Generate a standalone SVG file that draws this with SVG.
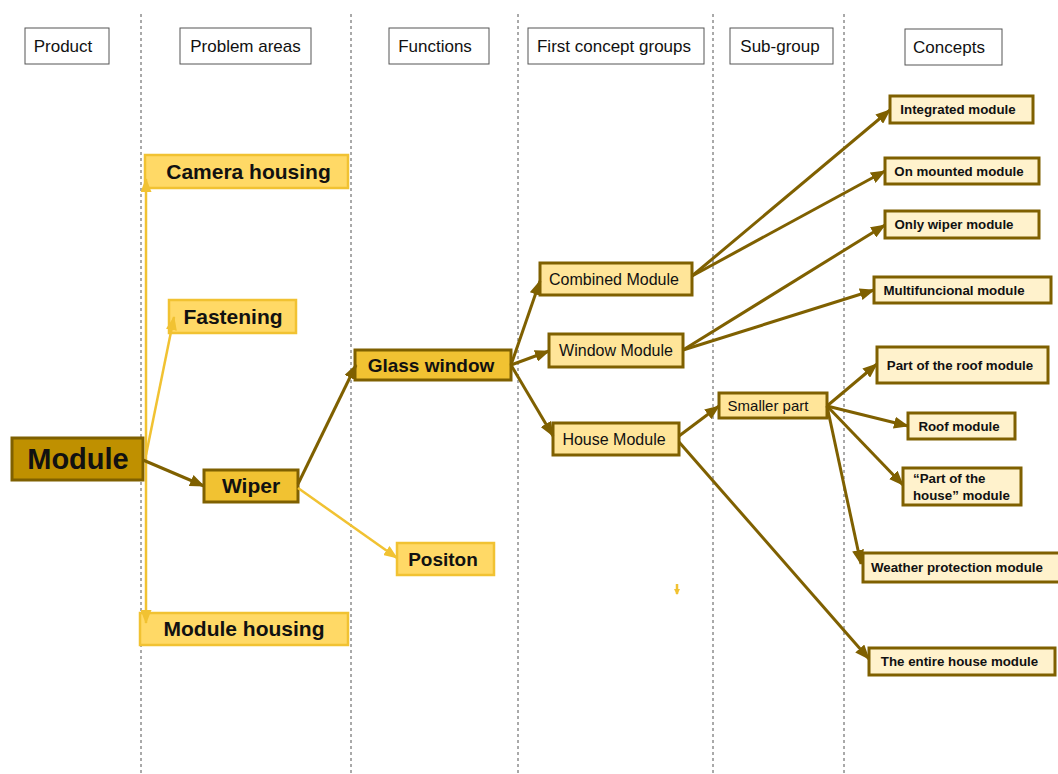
<svg xmlns="http://www.w3.org/2000/svg" width="1058" height="774" viewBox="0 0 1058 774">
<style>
text{font-family:"Liberation Sans",Arial,sans-serif;fill:#111}
.hdr rect{fill:#fff;stroke:#555;stroke-width:1}
.hdr text{font-size:17px;text-anchor:middle}
.sep{stroke:#555;stroke-width:1;stroke-dasharray:3 3}
.dk{stroke:#7f6000;stroke-width:3;fill:none}
.lt{stroke:#f1c232;stroke-width:2.5;fill:none}
.n-root rect{fill:#bf9000;stroke:#7f6000;stroke-width:3}
.n-mid rect{fill:#f1c232;stroke:#7f6000;stroke-width:3}
.n-lt rect{fill:#ffd966;stroke:#f1c232;stroke-width:2.5}
.n-grp rect{fill:#ffe599;stroke:#7f6000;stroke-width:3}
.n-con rect{fill:#fff2cc;stroke:#7f6000;stroke-width:3}
.b21{font-size:21px;font-weight:bold;text-anchor:middle}
.b19{font-size:19px;font-weight:bold;text-anchor:middle}
.r16{font-size:16px;text-anchor:middle}
.b13{font-size:13.3px;font-weight:bold;text-anchor:middle}
</style>
<defs>
<marker id="ad" markerUnits="userSpaceOnUse" markerWidth="15" markerHeight="12" refX="14" refY="6" orient="auto"><path d="M0,0 L15,6 L0,12 z" fill="#7f6000"/></marker>
<marker id="al" markerUnits="userSpaceOnUse" markerWidth="14" markerHeight="11" refX="13" refY="5.5" orient="auto"><path d="M0,0 L14,5.5 L0,11 z" fill="#f1c232"/></marker>
<marker id="als" markerUnits="userSpaceOnUse" markerWidth="6" markerHeight="6" refX="5" refY="3" orient="auto"><path d="M0,0 L6,3 L0,6 z" fill="#f1c232"/></marker>
</defs>
<rect width="1058" height="774" fill="#fff"/>
<g id="separators">
<line class="sep" x1="141" y1="14" x2="141" y2="774"/>
<line class="sep" x1="351" y1="14" x2="351" y2="774"/>
<line class="sep" x1="518" y1="14" x2="518" y2="774"/>
<line class="sep" x1="713" y1="14" x2="713" y2="774"/>
<line class="sep" x1="844" y1="14" x2="844" y2="774"/>
</g>
<g id="headers" class="hdr">
<g id="h-product"><rect x="25" y="28" width="84" height="36"/><text x="63" y="52">Product</text></g>
<g id="h-problem"><rect x="180" y="28" width="131" height="36"/><text x="245.5" y="52">Problem areas</text></g>
<g id="h-functions"><rect x="389" y="28" width="100" height="36"/><text x="435" y="52">Functions</text></g>
<g id="h-first"><rect x="528" y="28" width="176" height="36"/><text x="614" y="52">First concept groups</text></g>
<g id="h-sub"><rect x="730" y="28" width="103" height="36"/><text x="780" y="52">Sub-group</text></g>
<g id="h-concepts"><rect x="905" y="29" width="97" height="36"/><text x="949" y="53">Concepts</text></g>
</g>
<g id="n-module" class="n-root"><rect x="12" y="438" width="131" height="42"/><text x="78" y="469" style="font-size:29px;font-weight:bold;text-anchor:middle">Module</text></g>
<g id="n-camera" class="n-lt"><rect x="145" y="155" width="203" height="33"/><text class="b21" x="248.5" y="179">Camera housing</text></g>
<g id="n-fastening" class="n-lt"><rect x="169" y="300" width="127" height="33"/><text class="b21" x="233" y="324">Fastening</text></g>
<g id="n-wiper" class="n-mid"><rect x="204" y="470" width="94" height="32"/><text class="b21" x="251" y="493">Wiper</text></g>
<g id="n-modhousing" class="n-lt"><rect x="140" y="613" width="208" height="32"/><text class="b21" x="244" y="636">Module housing</text></g>
<g id="n-glass" class="n-mid"><rect x="355" y="350" width="156" height="30"/><text class="b19" x="431" y="372">Glass window</text></g>
<g id="n-positon" class="n-lt"><rect x="397" y="543" width="97" height="32"/><text class="b19" x="443" y="566">Positon</text></g>
<g id="n-combined" class="n-grp"><rect x="540" y="263" width="152" height="32"/><text class="r16" x="614" y="285">Combined Module</text></g>
<g id="n-window" class="n-grp"><rect x="549" y="334" width="134" height="33"/><text class="r16" x="616" y="356">Window Module</text></g>
<g id="n-house" class="n-grp"><rect x="553" y="423" width="126" height="32"/><text class="r16" x="614" y="445">House Module</text></g>
<g id="n-smaller" class="n-grp"><rect x="719" y="393" width="108" height="25"/><text x="768" y="411" style="font-size:15px;text-anchor:middle">Smaller part</text></g>
<g id="n-integrated" class="n-con"><rect x="890" y="96" width="143" height="27"/><text class="b13" x="958" y="114">Integrated module</text></g>
<g id="n-onmounted" class="n-con"><rect x="885" y="158" width="154" height="26"/><text class="b13" x="959" y="175.5">On mounted module</text></g>
<g id="n-onlywiper" class="n-con"><rect x="885" y="211" width="154" height="27"/><text class="b13" x="954" y="229">Only wiper module</text></g>
<g id="n-multi" class="n-con"><rect x="874" y="277" width="177" height="26"/><text class="b13" x="954" y="294.5">Multifuncional module</text></g>
<g id="n-partroof" class="n-con"><rect x="877" y="347" width="171" height="36"/><text class="b13" x="960" y="369.5">Part of the roof module</text></g>
<g id="n-roof" class="n-con"><rect x="908" y="413" width="107" height="26"/><text class="b13" x="959" y="430.5">Roof module</text></g>
<g id="n-parthouse" class="n-con"><rect x="903" y="468" width="118" height="37"/><text x="913" y="482.5" style="font-size:13.3px;font-weight:bold">“Part of the</text><text x="913" y="499.5" style="font-size:13.3px;font-weight:bold">house” module</text></g>
<g id="n-weather" class="n-con"><rect x="863" y="553" width="200" height="29"/><text x="871" y="572" style="font-size:13.3px;font-weight:bold">Weather protection module</text></g>
<g id="n-entire" class="n-con"><rect x="869" y="648" width="186" height="27"/><text class="b13" x="959.5" y="666">The entire house module</text></g>
<g id="connectors">
<line class="lt" x1="146" y1="455" x2="146" y2="179" marker-end="url(#al)"/>
<line class="lt" x1="146" y1="455" x2="146" y2="623" marker-end="url(#al)"/>
<line class="lt" x1="146" y1="455" x2="174" y2="317" marker-end="url(#al)"/>
<line class="lt" x1="298" y1="488" x2="397" y2="558" marker-end="url(#al)"/>
<line class="lt" x1="677" y1="584" x2="677" y2="594" stroke-width="1" marker-end="url(#als)"/>
<line class="dk" x1="143" y1="460" x2="204" y2="486" marker-end="url(#ad)"/>
<line class="dk" x1="298" y1="484" x2="356" y2="365" marker-end="url(#ad)"/>
<line class="dk" x1="511" y1="365" x2="540" y2="281" marker-end="url(#ad)"/>
<line class="dk" x1="511" y1="365" x2="549" y2="351" marker-end="url(#ad)"/>
<line class="dk" x1="511" y1="365" x2="553" y2="436" marker-end="url(#ad)"/>
<line class="dk" x1="692" y1="276" x2="890" y2="110" marker-end="url(#ad)"/>
<line class="dk" x1="692" y1="276" x2="885" y2="171" marker-end="url(#ad)"/>
<line class="dk" x1="683" y1="350" x2="885" y2="225" marker-end="url(#ad)"/>
<line class="dk" x1="683" y1="350" x2="874" y2="290" marker-end="url(#ad)"/>
<line class="dk" x1="679" y1="436" x2="719" y2="406" marker-end="url(#ad)"/>
<line class="dk" x1="679" y1="442" x2="869" y2="659" marker-end="url(#ad)"/>
<line class="dk" x1="827" y1="406" x2="877" y2="364" marker-end="url(#ad)"/>
<line class="dk" x1="827" y1="406" x2="908" y2="426" marker-end="url(#ad)"/>
<line class="dk" x1="827" y1="406" x2="903" y2="485" marker-end="url(#ad)"/>
<line class="dk" x1="827" y1="406" x2="861" y2="564" marker-end="url(#ad)"/>
</g>
</svg>
